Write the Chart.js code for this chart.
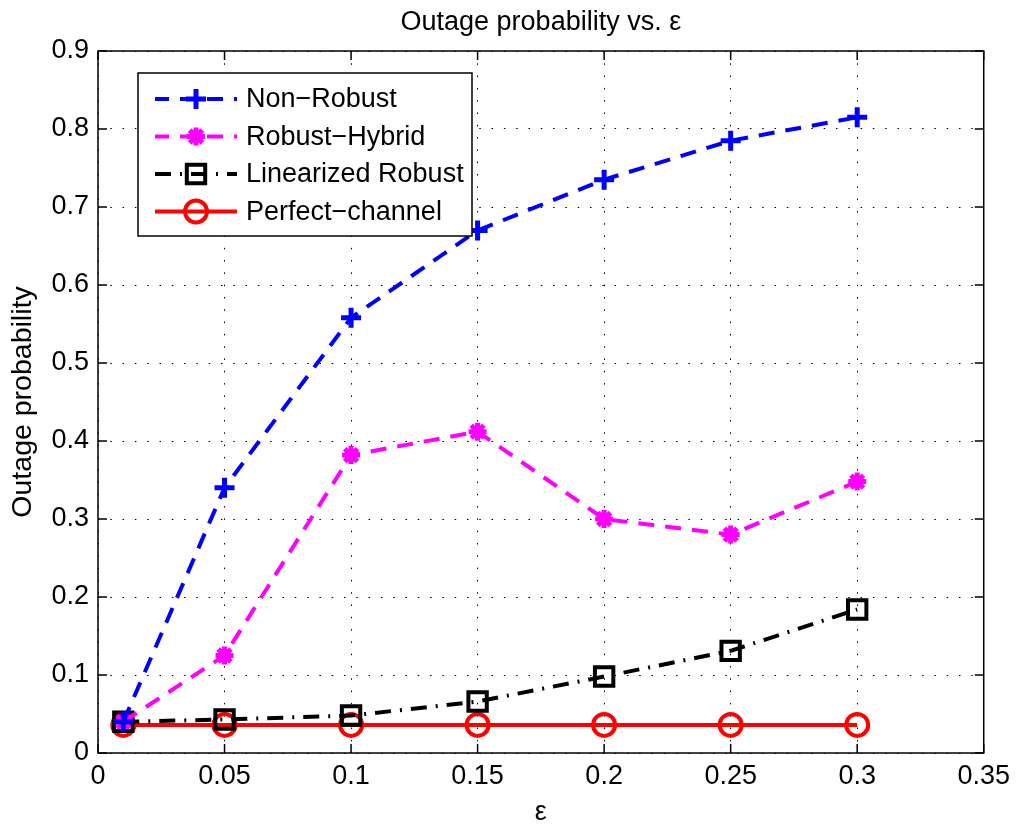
<!DOCTYPE html>
<html>
<head>
<meta charset="utf-8">
<script src="https://cdn.jsdelivr.net/npm/chart.js@4/dist/chart.umd.min.js"></script>
<style>
  html, body { margin: 0; background: #fff; }
  #wrap { width: 1017px; height: 824px; }
</style>
</head>
<body>
<div id="wrap"><canvas id="c" width="1017" height="824"></canvas></div>
<script>
// values
const epsilon = [0.01, 0.05, 0.1, 0.15, 0.2, 0.25, 0.3];
const nonRobust = [0.040, 0.340, 0.558, 0.670, 0.735, 0.785, 0.815];
const robustHybrid = [0.040, 0.125, 0.382, 0.412, 0.300, 0.280, 0.348];
const linearizedRobust = [0.040, 0.043, 0.048, 0.066, 0.098, 0.131, 0.184];
const perfectChannel = [0.036, 0.036, 0.036, 0.036, 0.036, 0.036, 0.036];

const xTicks = [0, 0.05, 0.1, 0.15, 0.2, 0.25, 0.3, 0.35];
const yTicks = [0, 0.1, 0.2, 0.3, 0.4, 0.5, 0.6, 0.7, 0.8, 0.9];

const FONT = '"Liberation Sans", Arial, Helvetica, sans-serif';

function pts(ys) {
  return epsilon.map((x, i) => ({ x: x, y: ys[i] }));
}

// MATLAB-like box with inward tick marks
const boxPlugin = {
  id: 'box',
  beforeDatasetsDraw(chart) {
    const { ctx, chartArea: a, scales } = chart;
    ctx.save();
    ctx.strokeStyle = '#000';
    ctx.lineWidth = 1.5;
    ctx.strokeRect(a.left, a.top, a.right - a.left, a.bottom - a.top);
    const len = 9;
    ctx.beginPath();
    xTicks.forEach(v => {
      const px = scales.x.getPixelForValue(v);
      ctx.moveTo(px, a.bottom); ctx.lineTo(px, a.bottom - len);
      ctx.moveTo(px, a.top); ctx.lineTo(px, a.top + len);
    });
    yTicks.forEach(v => {
      const py = scales.y.getPixelForValue(v);
      ctx.moveTo(a.left, py); ctx.lineTo(a.left + len, py);
      ctx.moveTo(a.right, py); ctx.lineTo(a.right - len, py);
    });
    ctx.stroke();
    ctx.restore();
  }
};

// legend drawn inside the axes, top-left
const legendPlugin = {
  id: 'innerLegend',
  afterDraw(chart) {
    const { ctx, chartArea: a } = chart;
    const x0 = a.left + 40, y0 = a.top + 22, w = 334, h = 163;
    ctx.save();
    ctx.fillStyle = '#fff';
    ctx.fillRect(x0, y0, w, h);
    ctx.strokeStyle = '#000';
    ctx.lineWidth = 1.5;
    ctx.strokeRect(x0, y0, w, h);
    ctx.font = '27px ' + FONT;
    ctx.textBaseline = 'middle';
    chart.data.datasets.forEach((ds, i) => {
      const cy = y0 + 26 + i * 37.5;
      ctx.save();
      ctx.strokeStyle = ds.borderColor;
      ctx.lineWidth = ds.borderWidth;
      ctx.setLineDash(ds.borderDash || []);
      ctx.lineDashOffset = ds.legendDashOffset || 0;
      ctx.beginPath();
      ctx.moveTo(x0 + 17, cy);
      ctx.lineTo(x0 + 99, cy);
      ctx.stroke();
      ctx.restore();
      ctx.save();
      ctx.fillStyle = ds.pointBackgroundColor;
      ctx.strokeStyle = ds.pointBorderColor;
      ctx.lineWidth = ds.pointBorderWidth;
      Chart.helpers.drawPoint(ctx, {
        pointStyle: ds.pointStyle,
        radius: ds.pointRadius,
        borderWidth: ds.pointBorderWidth,
        rotation: 0
      }, x0 + 58, cy);
      ctx.restore();
      ctx.fillStyle = '#000';
      ctx.fillText(ds.label, x0 + 108, cy + 1);
    });
    ctx.restore();
  }
};

new Chart(document.getElementById('c'), {
  type: 'scatter',
  data: {
    datasets: [
      {
        label: 'Non\u2212Robust',
        data: pts(nonRobust),
        showLine: true,
        borderColor: '#0000ff',
        borderWidth: 4,
        borderDash: [16, 11],
        legendDashOffset: 2,
        pointStyle: 'cross',
        pointRadius: 10,
        pointBorderWidth: 5,
        pointBorderColor: '#0000ff',
        pointBackgroundColor: '#0000ff'
      },
      {
        label: 'Robust\u2212Hybrid',
        data: pts(robustHybrid),
        showLine: true,
        borderColor: '#ff00ff',
        borderWidth: 4,
        borderDash: [16, 11],
        legendDashOffset: 2,
        pointStyle: 'star',
        pointRadius: 9,
        pointBorderWidth: 5,
        pointBorderColor: '#ff00ff',
        pointBackgroundColor: '#ff00ff'
      },
      {
        label: 'Linearized Robust',
        data: pts(linearizedRobust),
        showLine: true,
        borderColor: '#000000',
        borderWidth: 4,
        borderDash: [16, 9, 2, 9],
        legendDashOffset: 0,
        pointStyle: 'rect',
        pointRadius: 13,
        pointBorderWidth: 4,
        pointBorderColor: '#000000',
        pointBackgroundColor: 'rgba(255,255,255,0)'
      },
      {
        label: 'Perfect\u2212channel',
        data: pts(perfectChannel),
        showLine: true,
        borderColor: '#ff0000',
        borderWidth: 4,
        pointStyle: 'circle',
        pointRadius: 11,
        pointBorderWidth: 4,
        pointBorderColor: '#ff0000',
        pointBackgroundColor: 'rgba(255,255,255,0)'
      }
    ]
  },
  options: {
    responsive: false,
    animation: false,
    devicePixelRatio: 1,
    layout: { padding: { left: 0, right: 33, top: 0, bottom: 0 } },
    plugins: {
      legend: { display: false },
      tooltip: { enabled: false },
      title: {
        display: true,
        fullSize: false,
        text: 'Outage probability vs. \u03b5',
        color: '#000',
        font: { family: FONT, size: 27, weight: 'normal', lineHeight: 1.2 },
        padding: { top: 6, bottom: 12.6 }
      }
    },
    scales: {
      x: {
        type: 'linear',
        min: 0,
        max: 0.35,
        afterFit(scale) { scale.height = 71; },
        afterBuildTicks(scale) { scale.ticks = xTicks.map(v => ({ value: v })); },
        ticks: {
          color: '#000',
          padding: 7,
          font: { family: FONT, size: 27 },
          callback: v => String(Number(v.toFixed(2)))
        },
        grid: { color: '#000', lineWidth: 1, drawTicks: false },
        border: { display: false, dash: [1.5, 10.8] },
        title: {
          display: true,
          text: '\u03b5',
          color: '#000',
          font: { family: FONT, size: 27 },
          padding: { top: 0, bottom: -5 }
        }
      },
      y: {
        type: 'linear',
        min: 0,
        max: 0.9,
        afterFit(scale) { scale.width = 98; },
        afterBuildTicks(scale) { scale.ticks = yTicks.map(v => ({ value: v })); },
        ticks: {
          color: '#000',
          padding: 9,
          font: { family: FONT, size: 27 },
          callback: v => String(Number(v.toFixed(1)))
        },
        grid: { color: '#000', lineWidth: 1, drawTicks: false },
        border: { display: false, dash: [1.5, 10.8] },
        title: {
          display: true,
          text: 'Outage probability',
          color: '#000',
          font: { family: FONT, size: 28.5 },
          padding: { top: 6, bottom: 0 }
        }
      }
    }
  },
  plugins: [boxPlugin, legendPlugin]
});
</script>
</body>
</html>
